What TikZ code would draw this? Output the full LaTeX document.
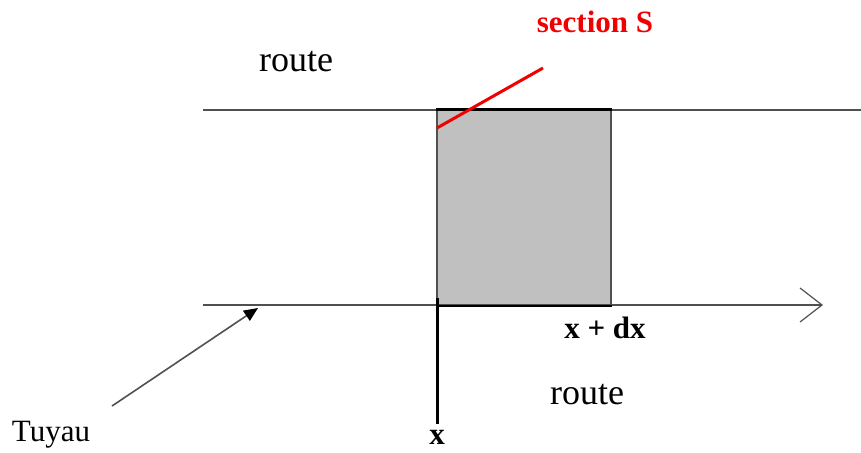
\documentclass[tikz,border=0pt]{standalone}
\usepackage{fontspec}
\setmainfont{Liberation Serif}
\usetikzlibrary{arrows.meta}
\definecolor{boxgray}{RGB}{192,192,192}
\definecolor{linegray}{RGB}{80,80,80}
\definecolor{secred}{RGB}{240,0,0}
\begin{document}
\begin{tikzpicture}[x=1pt,y=-1pt,
  lbl/.style={inner sep=0pt,font=\fontsize{31}{36}\selectfont},
  rlbl/.style={inner sep=0pt,font=\fontsize{36}{40}\selectfont},
  blbl/.style={inner sep=0pt,font=\fontsize{31}{36}\selectfont\bfseries},
  road/.style={draw=linegray,line width=1.2pt}]
\useasboundingbox (0,0) rectangle (861,452);
% coordinates
\coordinate (tl) at (203,110);
\coordinate (tr) at (861,110);
\coordinate (bl) at (203,305);
\coordinate (br) at (823,305);
\coordinate (xtop) at (437,298);
\coordinate (xbot) at (437,424);
\coordinate (redA) at (437,128);
\coordinate (redB) at (543,68);
\coordinate (tuyA) at (112,406);
\coordinate (tuyB) at (258,308);
% grey slice
\node[draw=linegray,fill=boxgray,line width=1.4pt,minimum width=174pt,minimum height=195pt,inner sep=0pt] (slice) at (524,207.5) {};
% road lines
\draw[road] (tl) -- (tr);
\draw[road,-{Straight Barb[length=22pt,width=34pt,line width=1.2pt]}] (bl) -- (br);
\draw[black,line width=2.4pt] (slice.north west) -- (slice.north east);
\draw[black,line width=2.4pt] (slice.south west) -- (slice.south east);
% x line
\draw[black,line width=3pt] (xtop) -- (xbot);
% red section line
\draw[secred,line width=3pt] (redA) -- (redB);
% Tuyau arrow
\draw[linegray,line width=1.6pt,-{Triangle[length=14pt,width=12pt,color=black]}] (tuyA) -- (tuyB);
% labels
\node[blbl,text=secred] (sec) at (595,22) {section S};
\node[rlbl] (route1) at (296,62) {route};
\node[blbl] (xdx) at (605,328) {x + dx};
\node[rlbl] (route2) at (587,395) {route};
\node[blbl] (xl) at (437,437) {x};
\node[lbl] (tuyau) at (51,435) {Tuyau};
\end{tikzpicture}
\end{document}
